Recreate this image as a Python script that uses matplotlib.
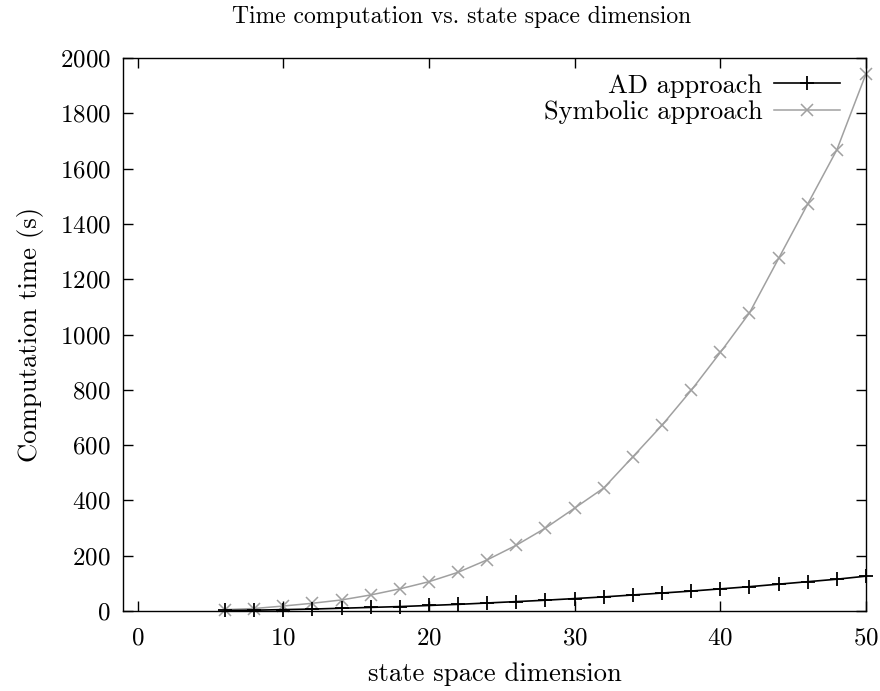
import numpy as np
import matplotlib
matplotlib.use("Agg")
import matplotlib.pyplot as plt

# state space dimension
dims = [6, 8, 10, 12, 14, 16, 18, 20, 22, 24, 26, 28, 30, 32, 34, 36, 38, 40, 42, 44, 46, 48, 50]

# computation time (s)
ad_time = [2, 3, 5, 7, 10, 13, 16, 20, 24, 29, 34, 39, 45, 51, 58, 65, 72, 80, 88, 97, 106, 115, 126]
sym_time = [5, 9, 18, 28, 40, 58, 80, 106, 140, 185, 238, 300, 372, 445, 558, 672, 798, 935,
            1078, 1275, 1472, 1668, 1943]

x_ticks = [0, 10, 20, 30, 40, 50]
y_ticks = list(range(0, 2001, 200))

plt.rcParams['font.family'] = ['cmr10', 'DejaVu Serif']
plt.rcParams['axes.formatter.use_mathtext'] = True
plt.rcParams['font.size'] = 18

fig = plt.figure(figsize=(8.8, 6.91), dpi=100)
ax = fig.add_axes([123 / 880, 1 - 611 / 691, 743 / 880, 553 / 691])

ax.plot(dims, ad_time, color="black", lw=1.2, marker="+", ms=9.5, mew=1.3,
        label="AD approach", clip_on=False, zorder=3)
ax.plot(dims, sym_time, color="#a0a0a0", lw=1.1, marker="x", ms=9, mew=1.1,
        label="Symbolic approach", clip_on=False, zorder=2)

ax.set_xlim(-1, 50)
ax.set_ylim(0, 2000)
ax.set_xticks(x_ticks)
ax.set_yticks(y_ticks)
ax.tick_params(direction="in", length=7, width=1, top=True, right=True, labelsize=18)
ax.tick_params(axis="x", pad=12)
ax.tick_params(axis="y", pad=9)
for s in ax.spines.values():
    s.set_linewidth(1)

ax.set_xlabel("state space dimension", fontsize=19.2, labelpad=9)
ax.set_ylabel("Computation time (s)", fontsize=19.2, labelpad=11)
# title sits a bit left of the axes centre in the original
ax.set_title("Time computation vs. state space dimension", fontsize=17, pad=25, x=0.455)

ax.legend(loc="upper right", bbox_to_anchor=(1 - 10 / 743, 1), frameon=False,
          markerfirst=False, handlelength=2.5, fontsize=19, borderpad=0.2,
          borderaxespad=0.4, labelspacing=0.1, handletextpad=0.45)

fig.savefig("out.png", dpi=100)
